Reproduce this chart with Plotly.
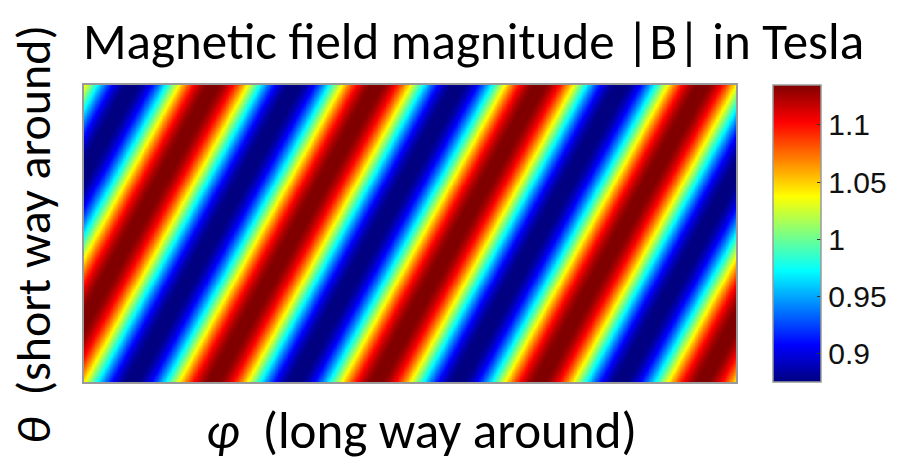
import numpy as np
import plotly.graph_objects as go

# ---- values ----
B0 = 1.005            # mean |B| (Tesla), centre of colour bar
dB = 0.133            # modulation amplitude (Tesla)
n_toroidal = 4        # stripe periods along phi
m_poloidal = 1        # stripe periods along theta
phase_turns = 0.21    # phase offset of the ripple (turns)
zmin, zmax = 0.875, 1.135
cbar_tickvals = [0.9, 0.95, 1.0, 1.05, 1.1]
cbar_ticktext = ["0.9", "0.95", "1", "1.05", "1.1"]
n_phi, n_theta = 400, 200

phi = np.linspace(0, 2 * np.pi, n_phi)
theta = np.linspace(0, 2 * np.pi, n_theta)
PHI, THETA = np.meshgrid(phi, theta)
Bmag = B0 + dB * np.cos(n_toroidal * PHI - m_poloidal * THETA + 2 * np.pi * phase_turns)

jet = [[0.0, "rgb(0,0,128)"], [0.125, "rgb(0,0,255)"], [0.375, "rgb(0,255,255)"],
       [0.625, "rgb(255,255,0)"], [0.875, "rgb(255,0,0)"], [1.0, "rgb(128,0,0)"]]

fig = go.Figure(go.Heatmap(
    x=phi, y=theta, z=Bmag, colorscale=jet, zmin=zmin, zmax=zmax,
    zsmooth="best",
    colorbar=dict(
        x=(773 - 84) / 652, xanchor="left", xref="paper", y=0.5, yanchor="middle",
        len=1.0, lenmode="fraction", thickness=48, thicknessmode="pixels",
        xpad=0, ypad=0,
        outlinecolor="#9a9a9a", outlinewidth=1.5,
        tickvals=cbar_tickvals, ticktext=cbar_ticktext,
        ticks="inside", ticklen=4, tickcolor="#333333",
        tickfont=dict(family="Liberation Sans, Arial", size=30, color="#111111"),
        ticklabelposition="outside",
    ),
))

lab_font = dict(family="Carlito, Lato, sans-serif", size=51, color="black")
ylab_font = dict(family="Carlito, Lato, sans-serif", size=48, color="black")

fig.update_layout(
    width=904, height=466,
    margin=dict(l=84, r=168, t=85, b=84, autoexpand=False),
    paper_bgcolor="white", plot_bgcolor="white",
    xaxis=dict(range=[0, 2 * np.pi], showticklabels=False, ticks="", showgrid=False,
               zeroline=False, showline=True, mirror=True, linecolor="#9a9a9a", linewidth=1.5),
    yaxis=dict(range=[0, 2 * np.pi], showticklabels=False, ticks="", showgrid=False,
               zeroline=False, showline=True, mirror=True, linecolor="#9a9a9a", linewidth=1.5),
    showlegend=False,
    annotations=[
        dict(text="Magnetic field magnitude |B| in Tesla", xref="paper", yref="paper",
             x=(473 - 84) / 652, y=1 + (85 - 42) / 297, xanchor="center", yanchor="middle",
             showarrow=False, font=lab_font),
        dict(text="<i>φ</i>  (long way around)", xref="paper", yref="paper",
             x=(421 - 84) / 652, y=-(430 - 382) / 297, xanchor="center", yanchor="middle",
             showarrow=False, font=lab_font),
        dict(text="<i>θ</i>  (short way around)", xref="paper", yref="paper",
             x=-(84 - 34) / 652, y=(382 - 235) / 297, xanchor="center", yanchor="middle",
             textangle=-90, showarrow=False, font=ylab_font),
    ],
)

fig.write_html("out.html")
